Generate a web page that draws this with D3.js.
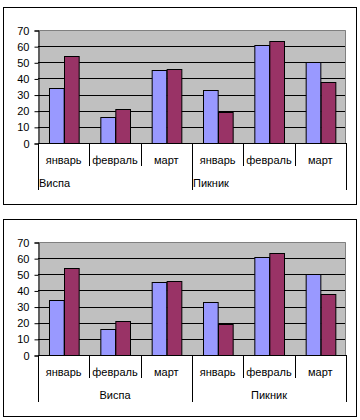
<!DOCTYPE html>
<html>
<head>
<meta charset="utf-8">
<script src="https://cdn.jsdelivr.net/npm/d3@7"></script>
<style>
  body { margin: 0; background: #fff; }
  svg text { font-family: "Liberation Sans", Arial, sans-serif; font-size: 11px; fill: #000; }
</style>
</head>
<body>
<script>
'use strict';

const groups = ['Виспа', 'Пикник'];
const months = ['январь', 'февраль', 'март'];
const series1 = [34, 16, 45, 33, 61, 50];
const series2 = [54, 21, 46, 19, 63, 38];
const yTicks = [0, 10, 20, 30, 40, 50, 60, 70];
const colors = ['#9999ff', '#993366'];

// flat list of categories: group + month
const cats = [];
groups.forEach(function (g, gi) {
  months.forEach(function (m, mi) {
    cats.push({ key: gi + '-' + mi, group: g, month: m, v: [series1[gi * 3 + mi], series2[gi * 3 + mi]] });
  });
});

const svg = d3.select('body').append('svg')
    .attr('width', 360)
    .attr('height', 420);

function drawChart(top, centerGroups) {
  const plot = {left: 38, right: 346, top: top + 23, bottom: top + 136};
  const g = svg.append('g');

  // outer frame
  g.append('rect')
      .attr('x', 3.5).attr('y', top + 0.5)
      .attr('width', 353).attr('height', 197)
      .attr('fill', '#fff').attr('stroke', '#000');

  const x = d3.scaleBand()
      .domain(cats.map(function (d) { return d.key; }))
      .range([plot.left, plot.right]);
  const y = d3.scaleLinear().domain([0, 70]).range([plot.bottom, plot.top]);

  const bw = x.bandwidth();
  const inner = d3.scaleBand().domain([0, 1])
      .range([bw * 0.75 / 3.5, bw - bw * 0.75 / 3.5]);

  // plot background
  g.append('rect')
      .attr('x', plot.left).attr('y', plot.top)
      .attr('width', plot.right - plot.left).attr('height', plot.bottom - plot.top)
      .attr('fill', '#c0c0c0');

  // gridlines
  g.selectAll('.grid').data(yTicks.slice(1, -1)).enter().append('line')
      .attr('x1', plot.left).attr('x2', plot.right)
      .attr('y1', function (d) { return Math.round(y(d)) + 0.5; })
      .attr('y2', function (d) { return Math.round(y(d)) + 0.5; })
      .attr('stroke', '#000');

  // gray plot border top/right
  g.append('path')
      .attr('d', 'M' + plot.left + ',' + (plot.top + 0.5) + 'H' + (plot.right - 0.5) + 'V' + plot.bottom)
      .attr('fill', 'none').attr('stroke', '#808080');

  // bars
  const cg = g.selectAll('.cat').data(cats).enter().append('g')
      .attr('transform', function (d) { return 'translate(' + x(d.key) + ',0)'; });
  cg.selectAll('rect').data(function (d) { return d.v; }).enter().append('rect')
      .attr('x', function (d, i) { return Math.round(inner(i)) + 0.5; })
      .attr('width', inner.bandwidth())
      .attr('y', function (d) { return Math.round(y(d)) + 0.5; })
      .attr('height', function (d) { return Math.round(y(0)) - Math.round(y(d)); })
      .attr('fill', function (d, i) { return colors[i]; })
      .attr('stroke', '#000');

  // y axis
  const yAxis = g.append('g')
      .attr('transform', 'translate(' + (plot.left + 0.5) + ',0.5)')
      .call(d3.axisLeft(y).tickValues(yTicks).tickSize(4).tickPadding(5));
  yAxis.select('.domain').attr('stroke', '#000');
  yAxis.selectAll('line').attr('stroke', '#000');
  yAxis.selectAll('text').style('font-size', '11px').attr('fill', '#000')
      .attr('font-family', null);

  // x axis line
  g.append('line')
      .attr('x1', plot.left).attr('x2', plot.right)
      .attr('y1', plot.bottom + 0.5).attr('y2', plot.bottom + 0.5)
      .attr('stroke', '#000');

  // category separators
  const bounds = d3.range(cats.length + 1);
  g.selectAll('.sep').data(bounds).enter().append('line')
      .attr('x1', function (i) { return Math.round(plot.left + i * bw) + 0.5; })
      .attr('x2', function (i) { return Math.round(plot.left + i * bw) + 0.5; })
      .attr('y1', plot.bottom)
      .attr('y2', function (i) { return plot.bottom + (i % 3 === 0 ? 47 : 23); })
      .attr('stroke', '#000');

  // month labels
  g.selectAll('.mlab').data(cats).enter().append('text')
      .attr('x', function (d) { return x(d.key) + bw / 2; })
      .attr('y', plot.bottom + 21)
      .attr('text-anchor', 'middle')
      .text(function (d) { return d.month; });

  // group labels
  g.selectAll('.glab').data(groups).enter().append('text')
      .attr('x', function (d, i) {
        return centerGroups ? plot.left + (i * 3 + 1.5) * bw : plot.left + i * 3 * bw + 1;
      })
      .attr('y', plot.bottom + (centerGroups ? 44 : 44))
      .attr('text-anchor', centerGroups ? 'middle' : 'start')
      .text(function (d) { return d; });
}

drawChart(7, false);
drawChart(219, true);
</script>
</body>
</html>
